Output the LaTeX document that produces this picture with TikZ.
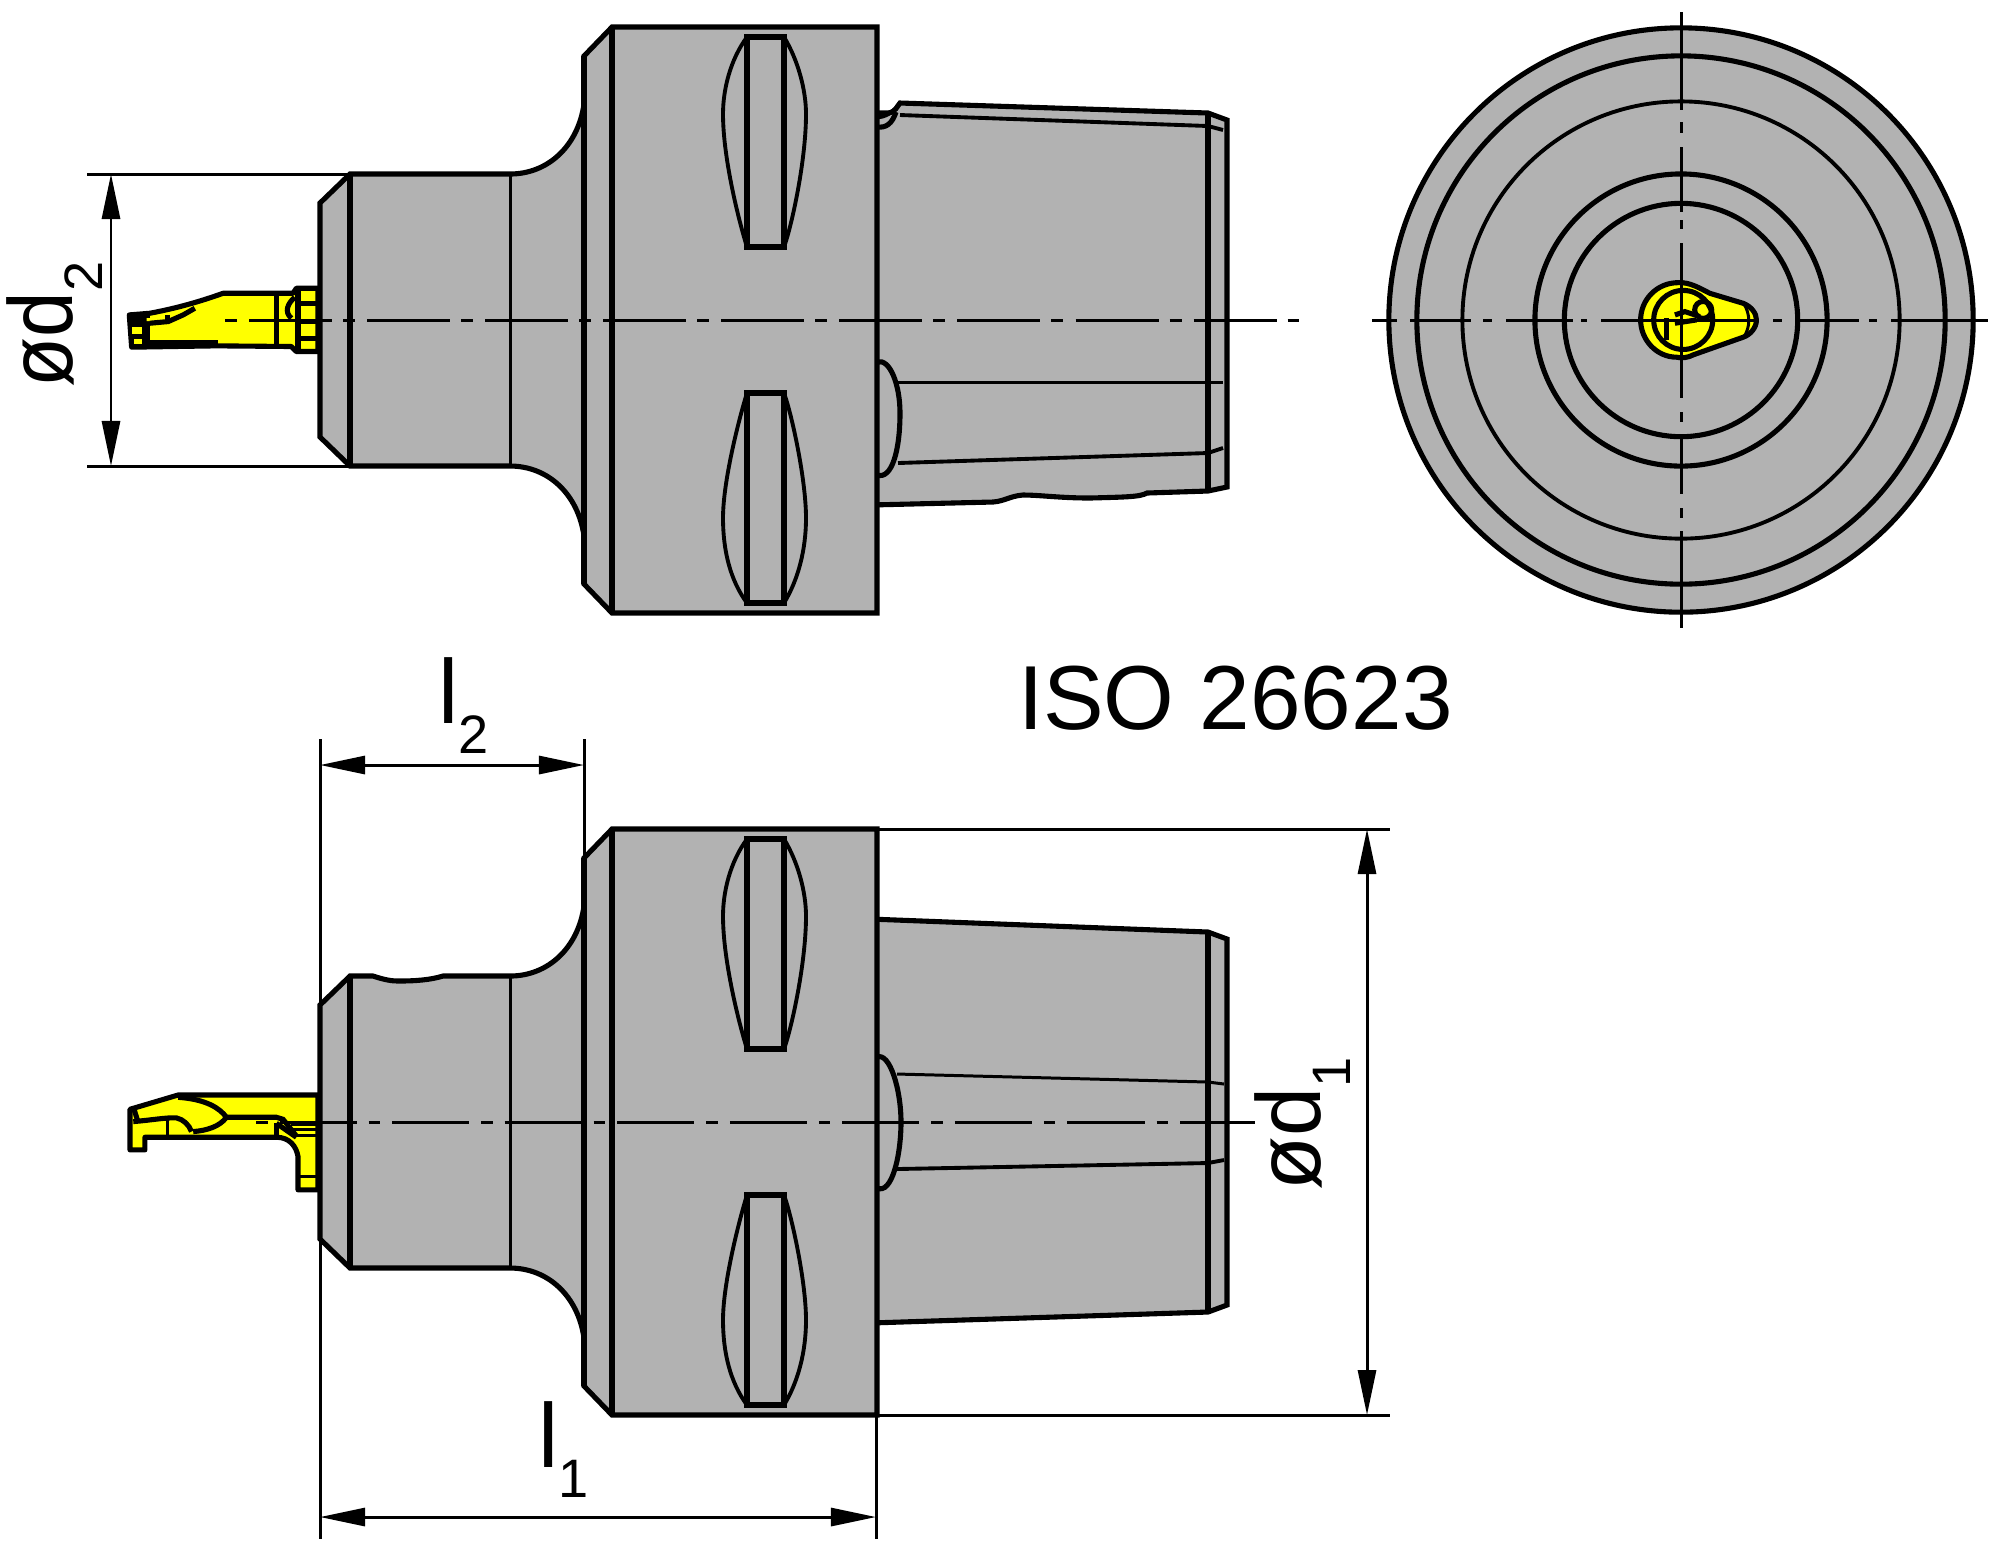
\documentclass[tikz,border=0pt]{standalone}
\usepackage{fontspec}
\usepackage{graphicx}
\setmainfont{Liberation Sans}
\usetikzlibrary{arrows.meta}
\definecolor{bodygrey}{RGB}{178,178,178}
\definecolor{toolyellow}{RGB}{255,255,0}
\tikzset{
  thickln/.style={line width=1.45pt,line join=miter},
  midln/.style={line width=1.1pt},
  thinln/.style={line width=0.85pt},
  dimln/.style={line width=0.85pt},
  dimarrow/.style={line width=0.85pt,{Triangle[length=0.45cm,width=0.18cm]}-{Triangle[length=0.45cm,width=0.18cm]}},
  lbl/.style={inner sep=0pt,outer sep=0pt,anchor=base west},
  big/.style={font=\fontsize{25.85}{30}\selectfont},
}
\newcommand{\subscr}[1]{\raisebox{-0.3cm}{\fontsize{15.4}{17}\selectfont #1}}
% neck and flange, local coordinates of the upper view; #1 = upper neck edge
\newcommand{\neckflange}[1]{%
  \filldraw[fill=bodygrey,thickln] (320,203) -- (350,174) #1 -- (510,174)
    .. controls (548,174) and (578,146) .. (584,104) -- (584,56) -- (612,27) -- (877,27)
    -- (877,613) -- (612,613) -- (584,584) -- (584,536)
    .. controls (578,494) and (548,466) .. (510,466) -- (350,466) -- (320,437) -- cycle;
  \draw[thickln] (350,174) -- (350,466);
  \draw[thinln] (510,174) -- (510,466);
  \draw[thickln] (584,56) -- (584,584);
  \draw[thickln] (612,27) -- (612,613);
  % slots
  \draw[midln] (747,37) .. controls (730,60) and (723,90) .. (723,114)
     .. controls (723,160) and (740,225) .. (747,247);
  \draw[midln] (784,37) .. controls (798,60) and (806,90) .. (806,114)
     .. controls (806,160) and (792,225) .. (784,247);
  \draw[thickln] (747,37) rectangle (784,247);
  \draw[midln] (747,603) .. controls (730,580) and (723,550) .. (723,518)
     .. controls (723,480) and (740,415) .. (747,393);
  \draw[midln] (784,603) .. controls (798,580) and (806,550) .. (806,518)
     .. controls (806,480) and (792,415) .. (784,393);
  \draw[thickln] (747,393) rectangle (784,603);
}
\begin{document}
\begin{tikzpicture}[x=0.01cm,y=-0.01cm]
\useasboundingbox (0,0) rectangle (2016,1559);
\fill[white] (0,0) rectangle (2016,1559);

% ---------- upper view: taper ----------
\filldraw[fill=bodygrey,thickln] (870,113) -- (888,113)
   .. controls (896,112) and (897,106) .. (900,103)
   -- (1208,113) -- (1227,120) -- (1227,487) -- (1208,491)
   -- (1147,493) .. controls (1140,497) and (1125,497) .. (1090,498)
   .. controls (1060,498) and (1040,495) .. (1023,495)
   .. controls (1010,496) and (1005,501) .. (993,502) -- (870,505) -- cycle;
\draw[thickln] (1208,113) -- (1208,491);
\draw[midln] (900,115) -- (1208,126) -- (1223,130);
\draw[midln] (877,117) .. controls (884,118) and (894,112) .. (900,103);
\draw[thickln] (877,127) .. controls (886,128) and (892,124) .. (896,112);
\draw[thinln] (898,382) -- (1223,382);
\draw[midln] (898,463) -- (1208,453) -- (1223,448);
\draw[thickln] (877,362) .. controls (890,358) and (900,385) .. (900,413)
   .. controls (900,450) and (892,480) .. (877,475);
% ---------- upper view: neck and flange ----------
\neckflange{}
% ---------- upper view: tool ----------
\begin{scope}[shift={(100,240)},x=0.00333cm,y=-0.00333cm]
  \filldraw[fill=toolyellow,thickln,line join=round] (88,225) -- (150,220)
     .. controls (230,205) and (300,185) .. (370,160) -- (580,160) -- (590,145) -- (655,145)
     -- (655,335) -- (590,335) -- (575,320) -- (350,318) -- (95,322) -- cycle;
  \fill[black] (88,225) -- (150,222) -- (150,322) -- (95,322) -- cycle;
  \fill[toolyellow] (97,262) rectangle (125,283);
  \fill[toolyellow] (103,297) rectangle (125,313);
  \fill[toolyellow] (140,235) -- (200,232) -- (200,240) -- (140,244) -- cycle;
  \draw[thickln] (150,250) -- (205,245) -- (250,225) -- (285,205);
  \draw[line width=1.7pt] (150,310) -- (355,310);
  \draw[thickln] (203,225) -- (203,242);
  \draw[thickln] (530,160) -- (530,320);
  \draw[thickln] (595,145) -- (595,335);
  \draw[thickln] (598,190) -- (655,190);
  \draw[thickln] (598,245) -- (655,245);
  \draw[thickln] (598,295) -- (655,295);
  \draw[thickln] (585,172) .. controls (565,190) and (552,215) .. (575,235);
\end{scope}

% ---------- lower view: taper ----------
\filldraw[fill=bodygrey,thickln] (870,919) -- (1208,932) -- (1227,939) -- (1227,1305)
   -- (1208,1312) -- (870,1323) -- cycle;
\draw[thickln] (1208,932) -- (1208,1312);
\draw[thinln] (897,1074) -- (1208,1082) -- (1224,1084);
\draw[midln] (897,1169) -- (1208,1163) -- (1224,1160);
\draw[thickln] (877,1057) .. controls (890,1052) and (901,1090) .. (901,1122)
   .. controls (901,1155) and (892,1195) .. (877,1188);
% ---------- lower view: neck and flange ----------
\begin{scope}[shift={(0,802)}]
\neckflange{-- (373,174) .. controls (385,178) and (392,179) .. (398,179) .. controls (415,179) and (430,178) .. (443,174)}
\end{scope}
% ---------- lower view: tool ----------
\begin{scope}[shift={(100,1060)},x=0.00333cm,y=-0.00333cm]
  \filldraw[fill=toolyellow,thickln,line join=round] (90,148) -- (235,105) -- (655,105) -- (655,390)
     -- (595,390) -- (595,290) .. controls (590,260) and (570,232) .. (530,232)
     -- (135,232) -- (135,270) -- (90,270) -- cycle;
  \draw[thickln] (235,112) .. controls (320,118) and (360,145) .. (380,172)
     .. controls (360,200) and (320,212) .. (280,215);
  \draw[thickln] (380,172) -- (530,172) -- (550,178) -- (590,228);
  \draw[thickln] (100,185) .. controls (160,180) and (200,172) .. (230,174)
     .. controls (250,178) and (268,195) .. (275,215);
  \draw[thinln] (203,180) -- (203,228);
  \draw[thickln] (530,190) -- (530,228);
  \draw[thickln] (530,190) -- (590,232);
  \draw[thickln] (103,150) -- (113,182);
  \draw[thinln] (575,195) -- (655,195);
  \draw[thinln] (580,210) -- (655,210);
  \draw[thinln] (590,228) -- (655,228);
  \draw[thinln] (600,350) -- (655,350);
\end{scope}

% ---------- end view ----------
\coordinate (c) at (1681,320);
\filldraw[fill=bodygrey,thickln] (c) circle[radius=2.92cm];
\draw[thickln] (c) circle[radius=2.64cm];
\draw[midln] (c) circle[radius=2.185cm];
\draw[thickln] (c) circle[radius=1.46cm];
\draw[thickln] (c) circle[radius=1.166cm];
\begin{scope}[shift={(1600,260)},x=0.00333cm,y=-0.00333cm]
  \filldraw[fill=toolyellow,thickln,line join=round] (235,68)
     .. controls (270,66) and (300,85) .. (330,100) -- (430,130)
     .. controls (455,140) and (470,160) .. (470,180)
     .. controls (470,205) and (450,225) .. (430,232) -- (280,285)
     .. controls (260,295) and (245,295) .. (230,292)
     .. controls (170,292) and (122,240) .. (122,180)
     .. controls (122,120) and (170,68) .. (235,68) -- cycle;
  \draw[thickln] (250,180) circle[radius=0.295cm];
  \draw[thickln] (310,150) circle[radius=0.085cm];
  \draw[thickln] (200,175) -- (200,240);
  \draw[thickln] (225,165) -- (255,155) -- (300,170);
  \draw[thickln] (225,190) -- (290,180);
  \draw[thinln] (432,130) .. controls (452,165) and (452,200) .. (432,232);
\end{scope}
% centre lines of the end view
\foreach \a/\b in {12/110,122/133,147/212,220/229,243/398,412/422,437/494,508/518,531/628}
  \draw[thinln] (1681,\a) -- (1681,\b);
\foreach \a/\b in {1372/1397,1410/1471,1483/1492,1506/1573,1581/1587,1601/1759,1773/1782,1798/1859,1869/1877,1891/1988}
  \draw[thinln] (\a,320) -- (\b,320);

% ---------- centre lines of the side views ----------
\coordinate (ca) at (225,320);  \coordinate (cb) at (1299,320);
\coordinate (cc) at (256,1122); \coordinate (cd) at (1255,1122);
\draw[thinln,dash pattern=on 0.12cm off 0.12cm on 0.83cm off 0.11cm] (ca) -- (cb);
\draw[thinln,dash pattern=on 0.115cm off 0.12cm on 0.77cm off 0.12cm] (cc) -- (cd);

% ---------- dimensions ----------
\coordinate (d2a) at (87,174);  \coordinate (d2b) at (350,174);
\coordinate (d2c) at (87,466);  \coordinate (d2d) at (350,466);
\coordinate (d2e) at (111,174); \coordinate (d2f) at (111,466);
\draw[dimln] (d2a) -- (d2b);
\draw[dimln] (d2c) -- (d2d);
\draw[dimarrow] (d2e) -- (d2f);

\coordinate (e1) at (320,739);  \coordinate (e2) at (320,1539);
\coordinate (e3) at (584,739);  \coordinate (e4) at (584,861);
\coordinate (e5) at (876,1415); \coordinate (e6) at (876,1539);
\draw[dimln] (e1) -- (e2);
\draw[dimln] (e3) -- (e4);
\draw[dimln] (e5) -- (e6);
\coordinate (l2a) at (320,765); \coordinate (l2b) at (584,765);
\draw[dimarrow] (l2a) -- (l2b);
\coordinate (l1a) at (320,1517); \coordinate (l1b) at (876,1517);
\draw[dimarrow] (l1a) -- (l1b);

\coordinate (f1) at (877,829);  \coordinate (f2) at (1390,829);
\coordinate (f3) at (877,1415); \coordinate (f4) at (1390,1415);
\draw[dimln] (f1) -- (f2);
\draw[dimln] (f3) -- (f4);
\coordinate (d1a) at (1367,829); \coordinate (d1b) at (1367,1415);
\draw[dimarrow] (d1a) -- (d1b);

% ---------- labels ----------
\node[lbl,big] (iso) at (1018,729) {ISO 26623};
\node[lbl,big,rotate=90] (dtwo) at (72,387) {\scalebox{0.9}[1]{ød}\subscr{2}};
\node[lbl,big,rotate=90] (done) at (1320,1190) {\scalebox{0.97}[1]{ød}\subscr{1}};
\node[lbl,big] (ltwo) at (438,723) {l\subscr{2}};
\node[lbl,big] (lone) at (538,1467) {l\subscr{1}};
\end{tikzpicture}
\end{document}
